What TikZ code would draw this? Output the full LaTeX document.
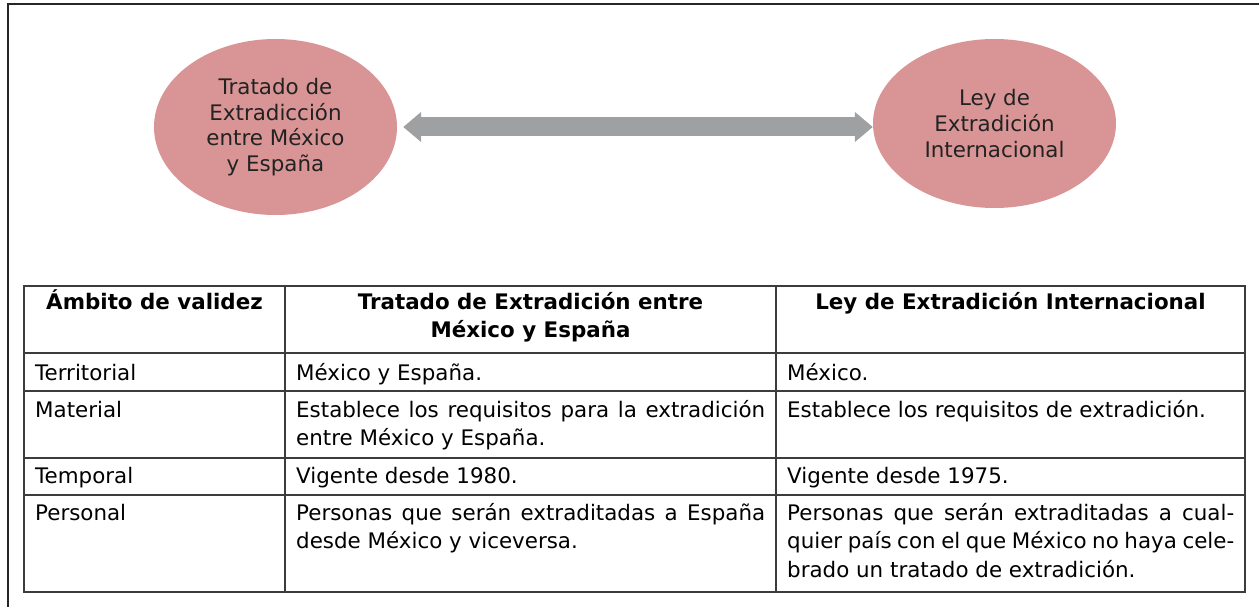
\documentclass[tikz,border=0pt]{standalone}
\usepackage{fontspec}
\setmainfont{DejaVu Sans}
\usetikzlibrary{arrows.meta,shapes.geometric}
\definecolor{rosa}{RGB}{217,149,149}
\definecolor{flecha}{RGB}{158,160,162}
\definecolor{texto}{RGB}{34,34,34}
\definecolor{linea}{RGB}{60,60,60}
\hyphenpenalty=10000
\tolerance=9999
\tikzset{
  ambito/.style={ellipse, fill=rosa, text=texto, align=center, inner sep=0pt,
    font=\fontsize{21.4}{25.7}\selectfont},
  titulo/.style={anchor=north, inner sep=0pt, align=center,
    font=\bfseries\fontsize{21.4}{28.5}\selectfont},
  celda/.style={anchor=north west, inner sep=0pt, align=justify,
    font=\fontsize{21.4}{28.5}\selectfont},
}

\begin{document}
\begin{tikzpicture}[x=1pt,y=-1pt]
    \useasboundingbox (0,0) rectangle (1259,607);
    \draw[line width=1.5pt, black!85] (8,607) -- (8,4) -- (1259,4);

    \node[ambito, minimum width=243pt, minimum height=176pt] (tratado) at (275.5,127) {Tratado de\\Extradicción\\entre México\\y España};
    \node[ambito, minimum width=243pt, minimum height=169pt] (ley) at (994.5,123.5) {Ley de\\Extradición\\Internacional};
    \draw[draw=flecha, line width=19pt, {Triangle[length=18pt,width=29pt]}-{Triangle[length=18pt,width=29pt]}, shorten <=6pt]
        (tratado.east) -- (tratado.east -| ley.west);

    % tabla
    \draw[linea, line width=1.2pt] (24,286) rectangle (1245,592);
    \foreach \y in {353,391,458,495}
        \draw[linea, line width=1.2pt] (24,\y) -- (1245,\y);
    \foreach \x in {285,776}
        \draw[linea, line width=1.2pt] (\x,286) -- (\x,592);

    \node[titulo] (ambito_col) at (154.5,289) {\strut Ámbito de validez};
    \node[titulo] (tratado_col) at (530.5,289) {\strut Tratado de Extradición entre\\México y España};
    \node[titulo] (ley_col) at (1010.5,289) {\strut Ley de Extradición Internacional};

    \node[celda] (territorial) at (35,360) {\strut Territorial};
    \node[celda, text width=469pt] (territorial_tratado) at (296,360) {\strut México y España.};
    \node[celda, text width=447pt] (territorial_ley) at (787,360) {\strut México.};

    \node[celda] (material) at (35,397) {\strut Material};
    \node[celda, text width=469pt] (material_tratado) at (296,397) {\strut Establece los requisitos para la extradición\linebreak entre México y España.};
    \node[celda, text width=447pt] (material_ley) at (787,397) {\strut Establece los requisitos de extradición.};

    \node[celda] (temporal) at (35,463) {\strut Temporal};
    \node[celda, text width=469pt] (temporal_tratado) at (296,463) {\strut Vigente desde 1980.};
    \node[celda, text width=447pt] (temporal_ley) at (787,463) {\strut Vigente desde 1975.};

    \node[celda] (personal) at (35,500) {\strut Personal};
    \node[celda, text width=469pt] (personal_tratado) at (296,500) {\strut Personas que serán extraditadas a España\linebreak desde México y viceversa.};
    \node[celda, text width=447pt] (personal_ley) at (787,500) {\strut Personas que serán extraditadas a cual-\linebreak quier país con el que México no haya cele-\linebreak brado un tratado de extradición.};
\end{tikzpicture}
\end{document}
